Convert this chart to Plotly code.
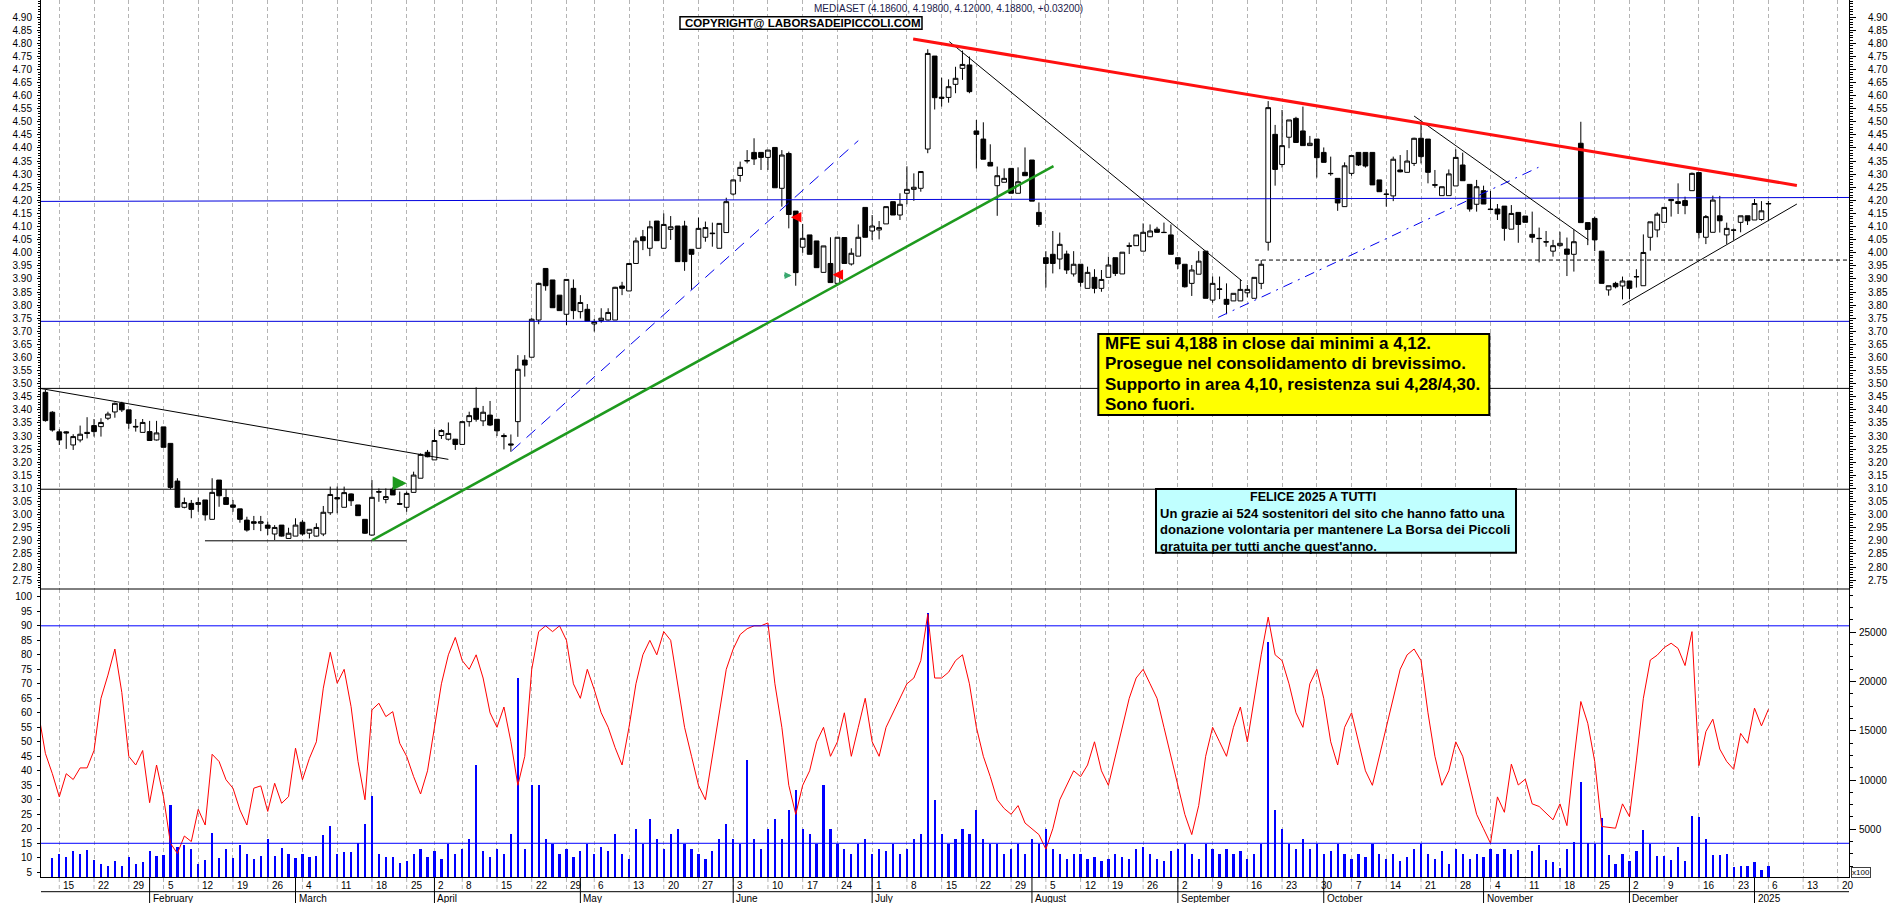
import pandas as pd
import plotly.graph_objects as go

# ---------------------------------------------------------------- calendar
HOLIDAYS = ["2024-03-29", "2024-04-01", "2024-05-01", "2024-08-15",
            "2024-12-24", "2024-12-25", "2024-12-26", "2024-12-31", "2025-01-01"]
CAL_START = "2024-01-10"
CAL_END = "2025-01-24"
SKIP_WEEK_LINES = ["2024-12-30"]
MONTH_NAMES = ["January", "February", "March", "April", "May", "June", "July",
               "August", "September", "October", "November", "December"]

# ---------------------------------------------------------------- data (Jan 11 2024 .. Jan 6 2025)
OPEN = [3.467, 3.391, 3.316, 3.316, 3.266, 3.285, 3.314, 3.340, 3.336, 3.368,
        3.392, 3.425, 3.400, 3.337, 3.314, 3.317, 3.285, 3.335, 3.272, 3.128,
        3.028, 3.043, 3.039, 3.056, 2.982, 3.132, 3.065, 3.037, 3.022, 2.979,
        2.973, 2.967, 2.960, 2.926, 2.960, 2.909, 2.918, 2.971, 2.929, 2.918,
        2.926, 3.007, 3.065, 3.028, 3.079, 3.037, 2.982, 2.922, 3.088, 3.058,
        3.097, 3.042, 3.028, 3.085, 3.139, 3.238, 3.209, 3.302, 3.288, 3.288,
        3.268, 3.355, 3.406, 3.358, 3.380, 3.364, 3.302, 3.270, 3.355, 3.590,
        3.601, 3.743, 3.940, 3.896, 3.838, 3.765, 3.864, 3.775, 3.784, 3.728,
        3.741, 3.743, 3.743, 3.873, 3.854, 3.959, 4.061, 4.017, 4.121, 4.017,
        4.089, 4.102, 4.102, 4.013, 4.017, 4.059, 4.075, 4.017, 4.077, 4.224,
        4.295, 4.350, 4.383, 4.383, 4.364, 4.402, 4.246, 4.379, 4.159, 4.021,
        4.068, 4.045, 3.925, 3.959, 3.883, 4.058, 3.957, 3.987, 4.173, 4.083,
        4.087, 4.110, 4.195, 4.144, 4.227, 4.242, 4.246, 4.396, 4.751, 4.594,
        4.593, 4.643, 4.704, 4.717, 4.465, 4.434, 4.345, 4.256, 4.269, 4.322,
        4.227, 4.307, 4.354, 4.154, 3.981, 3.994, 3.976, 3.995, 3.919, 3.956,
        3.864, 3.906, 3.864, 3.906, 3.981, 3.919, 4.027, 4.027, 4.006, 4.061,
        4.090, 4.078, 4.068, 3.981, 3.956, 3.883, 3.918, 4.006, 3.819, 3.862,
        3.822, 3.816, 3.816, 3.847, 3.826, 3.883, 4.040, 4.452, 4.337, 4.441,
        4.513, 4.465, 4.409, 4.434, 4.383, 4.303, 4.284, 4.176, 4.303, 4.383,
        4.383, 4.383, 4.278, 4.224, 4.217, 4.316, 4.307, 4.341, 4.437, 4.434,
        4.260, 4.218, 4.218, 4.255, 4.335, 4.261, 4.185, 4.237, 4.167, 4.167,
        4.178, 4.090, 4.154, 4.140, 4.070, 4.055, 4.042, 4.006, 4.027, 4.014,
        3.994, 4.418, 4.115, 4.131, 4.006, 3.858, 3.883, 3.873, 3.892, 3.909,
        3.874, 4.059, 4.087, 4.116, 4.204, 4.195, 4.199, 4.237, 4.306, 4.059,
        4.078, 4.141, 4.068, 4.087, 4.116, 4.141, 4.125, 4.127, 4.186]
HIGH = [3.476, 3.395, 3.326, 3.319, 3.307, 3.340, 3.372, 3.365, 3.368, 3.393,
        3.428, 3.431, 3.400, 3.365, 3.365, 3.358, 3.358, 3.335, 3.272, 3.139,
        3.065, 3.056, 3.065, 3.056, 3.139, 3.132, 3.097, 3.056, 3.022, 2.992,
        2.995, 2.995, 2.973, 2.960, 2.960, 2.950, 2.986, 2.979, 2.944, 2.967,
        3.033, 3.107, 3.107, 3.107, 3.081, 3.037, 2.982, 3.132, 3.100, 3.100,
        3.104, 3.088, 3.088, 3.164, 3.234, 3.247, 3.326, 3.326, 3.352, 3.289,
        3.355, 3.393, 3.486, 3.415, 3.434, 3.364, 3.310, 3.306, 3.609, 3.609,
        3.750, 3.886, 3.940, 3.896, 3.838, 3.898, 3.898, 3.838, 3.804, 3.747,
        3.788, 3.788, 3.870, 3.889, 3.959, 4.058, 4.087, 4.122, 4.121, 4.150,
        4.140, 4.102, 4.122, 4.013, 4.134, 4.119, 4.115, 4.112, 4.210, 4.280,
        4.348, 4.392, 4.437, 4.383, 4.392, 4.402, 4.392, 4.386, 4.159, 4.110,
        4.068, 4.045, 4.026, 4.059, 4.059, 4.058, 4.017, 4.108, 4.173, 4.144,
        4.121, 4.176, 4.195, 4.227, 4.330, 4.303, 4.312, 4.777, 4.751, 4.668,
        4.662, 4.710, 4.772, 4.749, 4.507, 4.498, 4.414, 4.329, 4.322, 4.322,
        4.326, 4.402, 4.354, 4.192, 4.006, 4.083, 4.077, 4.008, 4.006, 3.956,
        3.947, 3.937, 3.934, 3.985, 3.981, 4.002, 4.039, 4.068, 4.112, 4.108,
        4.099, 4.115, 4.108, 3.981, 3.956, 3.953, 4.006, 4.006, 3.909, 3.909,
        3.883, 3.845, 3.898, 3.877, 3.906, 3.972, 4.579, 4.488, 4.545, 4.507,
        4.519, 4.558, 4.446, 4.434, 4.402, 4.367, 4.284, 4.345, 4.371, 4.383,
        4.383, 4.383, 4.278, 4.242, 4.367, 4.373, 4.392, 4.439, 4.497, 4.434,
        4.316, 4.252, 4.318, 4.395, 4.382, 4.261, 4.278, 4.256, 4.236, 4.186,
        4.178, 4.182, 4.154, 4.140, 4.157, 4.096, 4.083, 4.049, 4.080, 4.058,
        4.089, 4.500, 4.115, 4.138, 4.006, 3.874, 3.889, 3.909, 3.892, 3.937,
        4.070, 4.118, 4.154, 4.173, 4.204, 4.265, 4.214, 4.306, 4.306, 4.144,
        4.218, 4.217, 4.115, 4.093, 4.141, 4.141, 4.205, 4.197, 4.198]
LOW = [3.355, 3.317, 3.266, 3.251, 3.247, 3.276, 3.291, 3.298, 3.298, 3.361,
       3.370, 3.392, 3.328, 3.317, 3.314, 3.283, 3.283, 3.257, 3.097, 3.028,
       3.024, 2.986, 3.011, 2.977, 2.982, 3.030, 3.039, 3.011, 2.969, 2.935,
       2.941, 2.937, 2.922, 2.903, 2.916, 2.909, 2.918, 2.920, 2.909, 2.916,
       2.918, 2.999, 3.005, 3.028, 3.033, 2.996, 2.926, 2.920, 3.049, 3.043,
       3.075, 3.037, 3.011, 3.085, 3.139, 3.219, 3.209, 3.289, 3.283, 3.247,
       3.268, 3.336, 3.355, 3.338, 3.338, 3.300, 3.249, 3.240, 3.297, 3.527,
       3.601, 3.727, 3.855, 3.790, 3.779, 3.724, 3.746, 3.749, 3.739, 3.699,
       3.733, 3.741, 3.743, 3.838, 3.854, 3.959, 4.010, 3.987, 4.046, 4.017,
       4.049, 3.966, 3.931, 3.858, 4.017, 4.042, 4.023, 4.017, 4.077, 4.218,
       4.271, 4.341, 4.335, 4.316, 4.316, 4.248, 4.176, 4.093, 3.874, 4.000,
       3.994, 3.943, 3.925, 3.886, 3.883, 3.959, 3.951, 3.987, 4.059, 4.049,
       4.051, 4.110, 4.144, 4.125, 4.185, 4.198, 4.233, 4.380, 4.547, 4.558,
       4.573, 4.609, 4.660, 4.609, 4.322, 4.357, 4.331, 4.141, 4.269, 4.227,
       4.227, 4.294, 4.197, 4.099, 3.867, 3.921, 3.937, 3.919, 3.909, 3.870,
       3.864, 3.845, 3.851, 3.906, 3.911, 3.919, 3.995, 4.027, 4.006, 4.059,
       4.077, 4.076, 3.994, 3.938, 3.867, 3.835, 3.918, 3.826, 3.809, 3.823,
       3.765, 3.816, 3.816, 3.830, 3.826, 3.861, 4.008, 4.256, 4.325, 4.399,
       4.421, 4.409, 4.409, 4.287, 4.345, 4.294, 4.160, 4.176, 4.294, 4.331,
       4.325, 4.259, 4.233, 4.176, 4.197, 4.307, 4.307, 4.331, 4.341, 4.265,
       4.248, 4.218, 4.218, 4.255, 4.275, 4.157, 4.157, 4.186, 4.165, 4.125,
       4.046, 4.090, 4.038, 4.116, 4.038, 3.963, 4.023, 3.985, 4.023, 3.911,
       3.928, 4.115, 4.029, 4.006, 3.883, 3.836, 3.864, 3.822, 3.822, 3.867,
       3.874, 4.008, 4.059, 4.116, 4.138, 4.148, 4.147, 4.237, 4.055, 4.033,
       4.078, 4.077, 4.033, 4.049, 4.078, 4.106, 4.125, 4.122, 4.120]
CLOSE = [3.359, 3.323, 3.285, 3.312, 3.298, 3.307, 3.310, 3.317, 3.352, 3.384,
         3.425, 3.400, 3.349, 3.335, 3.352, 3.283, 3.312, 3.257, 3.104, 3.028,
         3.046, 3.020, 3.046, 2.999, 3.085, 3.072, 3.039, 3.028, 2.982, 2.941,
         2.967, 2.973, 2.948, 2.951, 2.918, 2.929, 2.960, 2.926, 2.944, 2.951,
         3.009, 3.077, 3.060, 3.084, 3.053, 2.996, 2.929, 3.066, 3.086, 3.069,
         3.075, 3.040, 3.081, 3.151, 3.230, 3.221, 3.283, 3.321, 3.310, 3.268,
         3.355, 3.378, 3.364, 3.391, 3.342, 3.320, 3.298, 3.266, 3.555, 3.571,
         3.746, 3.883, 3.874, 3.790, 3.779, 3.898, 3.779, 3.810, 3.739, 3.737,
         3.750, 3.772, 3.868, 3.864, 3.959, 4.045, 4.046, 4.099, 4.046, 4.108,
         4.099, 3.966, 3.966, 3.994, 4.093, 4.096, 4.073, 4.112, 4.195, 4.278,
         4.326, 4.352, 4.358, 4.364, 4.392, 4.248, 4.373, 4.146, 3.924, 4.055,
         3.994, 3.943, 4.026, 3.886, 4.059, 3.959, 3.998, 4.059, 4.059, 4.102,
         4.096, 4.176, 4.144, 4.185, 4.242, 4.250, 4.310, 4.761, 4.592, 4.590,
         4.634, 4.666, 4.719, 4.615, 4.452, 4.357, 4.331, 4.294, 4.284, 4.227,
         4.271, 4.294, 4.197, 4.108, 3.959, 3.959, 4.032, 3.934, 3.956, 3.887,
         3.925, 3.864, 3.898, 3.953, 3.921, 4.002, 4.025, 4.068, 4.078, 4.083,
         4.078, 4.077, 3.994, 3.957, 3.870, 3.934, 3.968, 3.826, 3.883, 3.860,
         3.803, 3.845, 3.860, 3.860, 3.906, 3.956, 4.554, 4.318, 4.409, 4.507,
         4.421, 4.409, 4.418, 4.363, 4.345, 4.302, 4.190, 4.332, 4.371, 4.335,
         4.331, 4.259, 4.233, 4.223, 4.357, 4.309, 4.350, 4.437, 4.367, 4.307,
         4.258, 4.252, 4.301, 4.364, 4.275, 4.167, 4.252, 4.186, 4.165, 4.148,
         4.093, 4.150, 4.108, 4.116, 4.059, 4.054, 4.041, 4.027, 4.036, 3.994,
         4.042, 4.115, 4.089, 4.049, 3.883, 3.874, 3.870, 3.892, 3.864, 3.908,
         4.001, 4.118, 4.147, 4.173, 4.199, 4.188, 4.180, 4.303, 4.077, 4.138,
         4.201, 4.122, 4.093, 4.086, 4.141, 4.122, 4.188, 4.160, 4.188]
CHANGE = 0.032

# volume (x100), Jan 11 2024 .. Jan 6 2025
VOLUME = [200, 2047, 2488, 2217, 2826, 2488, 2894, 1879, 1439, 1303,
          1777, 1303, 2149, 1473, 1642, 2793, 2285, 2386, 7462, 3232,
          3402, 2996, 1473, 1879, 4586, 2115, 2996, 2047, 3402, 2488,
          1981, 2285, 4011, 2285, 3131, 2454, 2047, 2488, 2217, 2285,
          4417, 5330, 2488, 2657, 2657, 3571, 5534, 8376, 2488, 2149,
          2217, 1541, 1800, 2500, 3000, 2200, 2800, 2000, 3500, 2500,
          3000, 4000, 11500, 2800, 2200, 3000, 2500, 4500, 20400, 3000,
          9500, 9500, 4000, 3500, 2500, 3000, 2200, 2800, 3500, 2500,
          3200, 2800, 4500, 2500, 2000, 5000, 3500, 6000, 4000, 3000,
          4500, 5000, 3500, 3000, 2500, 2000, 2800, 4000, 5500, 4000,
          3500, 12000, 4000, 3000, 5000, 6000, 4000, 7000, 9000, 5000,
          4500, 3500, 9500, 5000, 3500, 3000, 2500, 3500, 4000, 2500,
          3000, 2800, 3500, 2500, 3000, 4000, 4500, 27000, 8000, 4500,
          3500, 4000, 5000, 4500, 7000, 4000, 3500, 3500, 2500, 3000,
          3500, 2500, 4000, 3500, 5000, 3000, 2500, 2000, 2500, 2500,
          2000, 2200, 1800, 2000, 2500, 2200, 2000, 3000, 3200, 2500,
          2000, 1800, 2800, 3000, 3500, 2500, 2000, 3500, 3000, 2500,
          3000, 2500, 2800, 2000, 2500, 3500, 24000, 7000, 5000, 3500,
          3000, 4000, 3000, 3500, 2500, 2800, 3500, 2500, 2000, 2500,
          2200, 3500, 2500, 2000, 2500, 1800, 2200, 3000, 3500, 2500,
          2000, 2800, 1500, 3000, 2500, 2000, 2500, 2200, 3000, 2500,
          2996, 2488, 2894, 186, 2793, 3402, 1879, 1642, 1033, 2996,
          3672, 9832, 3571, 3503, 6109, 2386, 1473, 2488, 1777, 2793,
          4924, 3469, 2285, 2285, 1879, 3232, 1777, 6345, 6278, 4011,
          2386, 2386, 2488, 1202, 1270, 1270, 1676, 863, 1270]

# oscillator (0-100), Jan 10 2024 .. Jan 6 2025
OSCILLATOR = [60, 46, 39, 31, 39, 37, 41, 41, 47, 65, 73,
              82, 67, 45, 42, 47, 29, 42, 31, 15, 11.5,
              17.5, 15.6, 26.7, 21.3, 45.7, 43.2, 36.9, 34, 26.5, 21.3,
              34, 34.8, 26, 35.7, 28.8, 31.1, 47.8, 36.9, 44.3, 50,
              68.5, 80.9, 70.2, 75, 62.1, 43.2, 30, 61, 63.3, 58.7,
              60.4, 49.5, 45, 38, 32, 40, 55, 70, 80, 86,
              78, 75, 80, 72, 60, 55, 62, 50, 35, 45,
              75, 88, 90, 88, 90, 85, 70, 65, 75, 68,
              60, 55, 48, 42, 55, 70, 80, 85, 80, 88,
              85, 70, 55, 45, 35, 30, 45, 60, 75, 82,
              87, 89, 90, 90, 91, 70, 55, 35, 25, 35,
              40, 50, 55, 45, 50, 60, 45, 55, 65, 50,
              45, 55, 60, 65, 70, 72, 78, 94, 72, 72,
              74, 78, 80, 70, 55, 45, 38, 30, 27, 25,
              28, 22, 20, 18, 13, 20, 30, 35, 40, 38,
              42, 50, 40, 35, 45, 55, 65, 72, 75, 70,
              65, 55, 45, 35, 25, 18, 28, 45, 55, 50,
              45, 55, 62, 50, 65, 80, 93, 80, 78, 70,
              60, 55, 70, 75, 65, 50, 42, 55, 60, 50,
              40, 35, 45, 55, 65, 75, 80, 82, 78, 60,
              45, 35, 40, 50, 45, 35, 25, 20, 15, 31,
              25.7, 42.3, 35.1, 37.1, 28.6, 27.7, 25.4, 23.1, 28.6, 21.1,
              43.7, 63.9, 56.4, 43.2, 20.8, 20.4, 20.2, 28.6, 24.2, 43.7,
              65.0, 78.2, 79.9, 82.5, 84.0, 82.2, 76.3, 88.0, 41.8, 53.5,
              57.8, 47.5, 43.2, 40.5, 52.9, 49.5, 61.6, 55.5, 61.2]
OSC_LEVELS = [90, 15]

# drawn levels / trendlines (session index, price)
H_LEVELS_BLUE = [(4.196, 4.211), (3.738, 3.738)]
H_LEVELS_BLACK = [3.482, 3.097]
DASHED_LEVEL = (174.1, 3.972)
THIN_BLACK_LINES = [(-0.78, 3.482, 58.0, 3.211), (22.97, 2.900, 52.0, 2.900),
                    (130.1, 4.806, 172.2, 3.893), (197.0, 4.522, 222.1, 4.049),
                    (227.0, 3.800, 252.1, 4.186)]
GREEN_LINE = (47.06, 2.903, 145.1, 4.331)
RED_LINE = (124.9, 4.816, 252.1, 4.257)
BLUE_DASH_LINE = (67.1, 3.243, 117.0, 4.428)
BLUE_DASHDOT_LINE = (168.8, 3.753, 214.9, 4.326)
SIGNAL_ARROWS = [(52.0, 3.120, "right", "green_big"), (107.4, 3.913, "right", "green_small"),
                 (107.3, 4.135, "left", "red"), (113.3, 3.916, "left", "red")]

TICKER = "MEDIASET"
COPYRIGHT = "COPYRIGHT@ LABORSADEIPICCOLI.COM"
COMMENT_LINES = ["MFE sui 4,188 in close dai minimi a 4,12.",
                 "Prosegue nel consolidamento di brevissimo.",
                 "Supporto in area 4,10, resistenza sui 4,28/4,30.",
                 "Sono fuori."]
GREETING_TITLE = "FELICE 2025 A TUTTI"
GREETING_LINES = ["Un grazie ai 524 sostenitori del sito che hanno fatto una",
                  "donazione volontaria per mantenere La Borsa dei Piccoli",
                  "gratuita per tutti anche quest'anno."]
PRICE_TICKS = [round(2.75 + 0.05 * k, 2) for k in range(44)]
OSC_TICKS = list(range(5, 101, 5))
VOL_TICKS = [5000, 10000, 15000, 20000, 25000]

# ---------------------------------------------------------------- geometry
W, H = 1890, 903
ML, MR, MT, MB = 41, 41, 0, 25
PW, PH = W - ML - MR, H - MT - MB
SPLIT_PX = 589
X_RANGE = [-0.633, 259.6]
PRICE_RANGE = [2.716, 4.965]
OSC_RANGE = [3.03, 102.7]
VOL_RANGE = [57, 29390]
FONT = "Arial, 'Liberation Sans', sans-serif"
GRID = "#b4b4b4"


def pxx(x):
    return (x - ML) / PW


def pxy(y):
    return (PH - (y - MT)) / PH


split = pxy(SPLIT_PX)

days = pd.bdate_range(CAL_START, CAL_END, freq="C", holidays=HOLIDAYS)
day_x = [p - 1 for p in range(len(days))]
candle_x = list(range(len(OPEN)))
osc_x = day_x[:len(OSCILLATOR)]

week_x, week_lbl = [], []
month_x, month_lbl = [], []
for p in range(1, len(days)):
    x = day_x[p]
    if x > X_RANGE[1]:
        break
    d, prev = days[p], days[p - 1]
    if d.isocalendar()[1] != prev.isocalendar()[1] and d.strftime("%Y-%m-%d") not in SKIP_WEEK_LINES:
        week_x.append(x)
        week_lbl.append(str(d.day))
    if d.month != prev.month:
        month_x.append(x)
        month_lbl.append(str(d.year) if d.month == 1 else MONTH_NAMES[d.month - 1])

fig = go.Figure()
fig.add_trace(go.Candlestick(
    x=candle_x, open=OPEN, high=HIGH, low=LOW, close=CLOSE,
    increasing=dict(line=dict(color="black", width=1), fillcolor="white"),
    decreasing=dict(line=dict(color="black", width=1), fillcolor="black"),
    whiskerwidth=0, xaxis="x", yaxis="y", hoverinfo="skip", showlegend=False))
fig.add_trace(go.Scatter(x=[0], y=[3.5], mode="markers", marker=dict(opacity=0),
                         xaxis="x", yaxis="y2", hoverinfo="skip", showlegend=False))
fig.add_trace(go.Bar(x=candle_x, y=VOLUME, width=0.32, marker=dict(color="#0000ff", line=dict(width=0)),
                     xaxis="x2", yaxis="y3", hoverinfo="skip", showlegend=False))
fig.add_trace(go.Scatter(x=osc_x, y=OSCILLATOR, mode="lines", line=dict(color="#ff0000", width=1),
                         xaxis="x2", yaxis="y4", hoverinfo="skip", showlegend=False))

tickfont = dict(family=FONT, size=10, color="black")
xa = dict(domain=[0, 1], range=X_RANGE, showticklabels=False, ticks="", tickmode="array",
          tickvals=week_x, showgrid=True, gridcolor=GRID, griddash="4px,3px", gridwidth=1,
          zeroline=False, showline=False, rangeslider=dict(visible=False), fixedrange=True)
price_minor = dict(tickmode="linear", tick0=2.70, dtick=0.01, ticks="outside", ticklen=2,
                   tickcolor="black", showgrid=False)
fig.update_layout(
    width=W, height=H, margin=dict(l=ML, r=MR, t=MT, b=MB, pad=0),
    paper_bgcolor="white", plot_bgcolor="white", showlegend=False,
    font=dict(family=FONT, size=10, color="black"),
    boxgap=0.25, boxgroupgap=0.1, bargap=0,
    xaxis=dict(xa, anchor="y"),
    xaxis2=dict(xa, anchor="y3", matches="x"),
    yaxis=dict(domain=[split, 1], range=PRICE_RANGE, side="left", anchor="x",
               tickmode="array", tickvals=PRICE_TICKS, ticktext=[f"{v:.2f}" for v in PRICE_TICKS],
               ticks="outside", ticklen=3, tickcolor="black", tickfont=tickfont, ticklabelstandoff=3,
               showgrid=False, zeroline=False, showline=True, linecolor="black", linewidth=1,
               minor=price_minor, fixedrange=True),
    yaxis2=dict(overlaying="y", side="right", anchor="x", range=PRICE_RANGE,
                tickmode="array", tickvals=PRICE_TICKS, ticktext=[f"{v:.2f}" for v in PRICE_TICKS],
                ticks="outside", ticklen=6, tickcolor="black", tickfont=tickfont, ticklabelstandoff=10,
                showgrid=False, zeroline=False, showline=True, linecolor="black", linewidth=1,
                minor=dict(price_minor, ticklen=3), fixedrange=True),
    yaxis3=dict(domain=[0, split], range=VOL_RANGE, side="right", anchor="x2",
                tickmode="array", tickvals=VOL_TICKS, ticktext=[str(v) for v in VOL_TICKS],
                ticks="outside", ticklen=6, tickcolor="black",
                tickfont=tickfont, ticklabelstandoff=1, showgrid=False, zeroline=False,
                showline=True, linecolor="black", linewidth=1,
                minor=dict(tickmode="linear", tick0=0, dtick=1250, ticks="outside", ticklen=3,
                           tickcolor="black", showgrid=False), fixedrange=True),
    yaxis4=dict(overlaying="y3", side="left", anchor="x2", range=OSC_RANGE,
                tickmode="array", tickvals=OSC_TICKS, ticktext=[str(v) for v in OSC_TICKS],
                ticks="outside", ticklen=3, tickcolor="black",
                tickfont=tickfont, ticklabelstandoff=3, showgrid=False, zeroline=False,
                showline=True, linecolor="black", linewidth=1, fixedrange=True),
)

shapes = []
ann = []


def hline_px(y, color="black", width=1):
    shapes.append(dict(type="line", xref="paper", yref="paper", x0=0, x1=1, y0=pxy(y), y1=pxy(y),
                       line=dict(color=color, width=width)))


# panel frames
hline_px(SPLIT_PX)
hline_px(PH - 0.5)
hline_px(891.7)
for x in week_x:
    shapes.append(dict(type="line", xref="x", yref="paper", x0=x, x1=x, y0=pxy(PH), y1=pxy(891.7),
                       line=dict(color=GRID, width=1, dash="4px,3px")))
for x in month_x:
    shapes.append(dict(type="line", xref="x", yref="paper", x0=x, x1=x, y0=pxy(PH), y1=pxy(H),
                       line=dict(color="black", width=1)))
for x, t in zip(week_x, week_lbl):
    ann.append(dict(x=x, y=pxy(885), xref="x", yref="paper", text=t, showarrow=False, xanchor="left",
                    yanchor="middle", xshift=2, font=dict(family=FONT, size=10, color="black")))
for x, t in zip(month_x, month_lbl):
    ann.append(dict(x=x, y=pxy(898), xref="x", yref="paper", text=t, showarrow=False, xanchor="left",
                    yanchor="middle", xshift=1, font=dict(family=FONT, size=10, color="black")))

# price levels
for y0, y1 in H_LEVELS_BLUE:
    shapes.append(dict(type="line", xref="paper", yref="y", x0=0, x1=1, y0=y0, y1=y1,
                       line=dict(color="#0000dd", width=1)))
for y in H_LEVELS_BLACK:
    shapes.append(dict(type="line", xref="paper", yref="y", x0=0, x1=1, y0=y, y1=y,
                       line=dict(color="black", width=1)))
shapes.append(dict(type="line", xref="x", yref="y", x0=DASHED_LEVEL[0], x1=X_RANGE[1],
                   y0=DASHED_LEVEL[1], y1=DASHED_LEVEL[1], line=dict(color="black", width=1, dash="4px,3px")))
for x0, y0, x1, y1 in THIN_BLACK_LINES:
    shapes.append(dict(type="line", xref="x", yref="y", x0=x0, y0=y0, x1=x1, y1=y1,
                       line=dict(color="black", width=1)))


def seg(t, color, width, dash="solid"):
    shapes.append(dict(type="line", xref="x", yref="y", x0=t[0], y0=t[1], x1=t[2], y1=t[3],
                       line=dict(color=color, width=width, dash=dash)))


seg(GREEN_LINE, "#1e9a1e", 2.5)
seg(RED_LINE, "#ff1010", 3)
seg(BLUE_DASH_LINE, "#0000ee", 1, "12px,8px")
seg(BLUE_DASHDOT_LINE, "#0000ee", 1, "10px,6px,2px,6px")

# oscillator levels
for v in OSC_LEVELS:
    shapes.append(dict(type="line", xref="paper", yref="y4", x0=0, x1=1, y0=v, y1=v,
                       line=dict(color="#0000ff", width=1)))

arrow_style = {"green_big": ("#1e9a1e", 4, 12), "green_small": ("#3aa870", 2, 9), "red": ("#ff0000", 3, 9)}
for x, y, direction, key in SIGNAL_ARROWS:
    col, wdt, ln = arrow_style[key]
    ann.append(dict(x=x, y=y, xref="x", yref="y", text="", showarrow=True, arrowhead=2, arrowsize=0.7,
                    arrowwidth=wdt, arrowcolor=col, ax=-ln if direction == "right" else ln, ay=0))

# header texts
ann.append(dict(x=pxx(811.7), y=pxy(8.3), xref="paper", yref="paper", xanchor="left", yanchor="middle",
                showarrow=False,
                text=f"{TICKER} ({OPEN[-1]:.5f}, {HIGH[-1]:.5f}, {LOW[-1]:.5f}, {CLOSE[-1]:.5f}, +{CHANGE:.5f})",
                font=dict(family=FONT, size=10, color="#1a1a4a")))
shapes.append(dict(type="rect", xref="paper", yref="paper", x0=pxx(680), x1=pxx(922), y0=pxy(29.3),
                   y1=pxy(16.7), fillcolor="white", line=dict(color="black", width=1.5)))
ann.append(dict(x=pxx(683), y=pxy(23.2), xref="paper", yref="paper", xanchor="left", yanchor="middle",
                showarrow=False, text=f"<b>{COPYRIGHT}</b>", font=dict(family=FONT, size=11.5, color="black")))

# comment box
shapes.append(dict(type="rect", xref="paper", yref="paper", x0=pxx(1098.3), x1=pxx(1489.3), y0=pxy(415),
                   y1=pxy(334), fillcolor="#ffff00", line=dict(color="black", width=2)))
for k, line in enumerate(COMMENT_LINES):
    ann.append(dict(x=pxx(1102.5), y=pxy(343.5 + 20.3 * k), xref="paper", yref="paper", xanchor="left",
                    yanchor="middle", showarrow=False, text=f"<b>{line}</b>",
                    font=dict(family=FONT, size=17, color="black")))

# greeting box
shapes.append(dict(type="rect", xref="paper", yref="paper", x0=pxx(1156), x1=pxx(1516), y0=pxy(552.7),
                   y1=pxy(489), fillcolor="#c0ffff", line=dict(color="black", width=2)))
ann.append(dict(x=pxx(1313), y=pxy(496.5), xref="paper", yref="paper", xanchor="center", yanchor="middle",
                showarrow=False, text=f"<b>{GREETING_TITLE}</b>", font=dict(family=FONT, size=12.5, color="black")))
for k, line in enumerate(GREETING_LINES):
    ann.append(dict(x=pxx(1158.3), y=pxy(513.3 + 16.4 * k), xref="paper", yref="paper", xanchor="left",
                    yanchor="middle", showarrow=False, text=f"<b>{line}</b>",
                    font=dict(family=FONT, size=13, color="black")))

# x100 tag
ann.append(dict(x=pxx(1851), y=pxy(872.5), xref="paper", yref="paper", xanchor="left", yanchor="middle",
                showarrow=False, text="x100", font=dict(family=FONT, size=8, color="black"),
                bordercolor="#404040", borderwidth=1, borderpad=0, bgcolor="white"))

fig.update_layout(shapes=shapes, annotations=ann)
fig.write_html("out.html", config={"displayModeBar": False},
               post_script="document.body.style.margin='0';document.body.style.overflow='hidden';")
